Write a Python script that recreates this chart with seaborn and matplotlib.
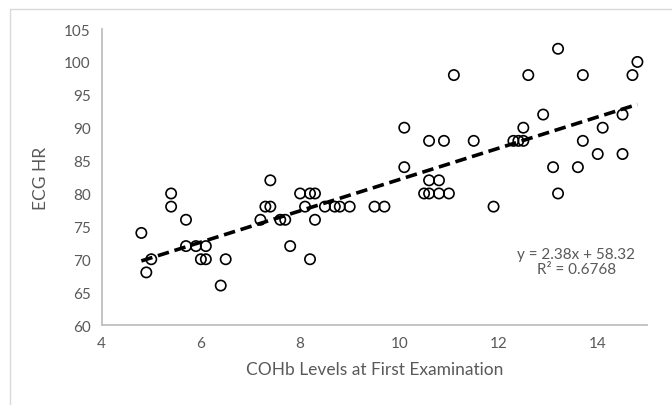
import numpy as np
import pandas as pd
import matplotlib.pyplot as plt
import matplotlib.patches as patches
import seaborn as sns

# ---- data ----
cohb = [4.8, 4.9, 5.0, 5.4, 5.4, 5.7, 5.7, 5.9, 6.0, 6.1, 6.1, 6.4, 6.5,
        7.2, 7.3, 7.4, 7.4, 7.6, 7.7, 7.8, 8.0, 8.1, 8.2, 8.2, 8.3, 8.3,
        8.5, 8.7, 8.8, 9.0, 9.5, 9.7,
        10.1, 10.1, 10.5, 10.6, 10.6, 10.6, 10.8, 10.8, 10.9, 11.0, 11.1,
        11.5, 11.9, 12.3, 12.4, 12.5, 12.5, 12.6, 12.9, 13.1, 13.2, 13.2,
        13.6, 13.7, 13.7, 14.0, 14.1, 14.5, 14.5, 14.7, 14.8]
ecg_hr = [74, 68, 70, 80, 78, 76, 72, 72, 70, 72, 70, 66, 70,
          76, 78, 78, 82, 76, 76, 72, 80, 78, 80, 70, 80, 76,
          78, 78, 78, 78, 78, 78,
          90, 84, 80, 80, 82, 88, 82, 80, 88, 80, 98,
          88, 78, 88, 88, 88, 90, 98, 92, 84, 102, 80,
          84, 98, 88, 86, 90, 92, 86, 98, 100]

slope = 2.38
intercept = 58.32
r_squared = 0.6768

x_ticks = [4, 6, 8, 10, 12, 14]
y_ticks = [60, 65, 70, 75, 80, 85, 90, 95, 100, 105]

df = pd.DataFrame({"COHb": cohb, "HR": ecg_hr})
trend_x = np.array([min(cohb), max(cohb)])
trend = pd.DataFrame({"COHb": trend_x, "HR": slope * trend_x + intercept})

# ---- style ----
sns.set_theme(style="white")
plt.rcParams["font.family"] = ["Lato", "DejaVu Sans"]

grey = "#595959"
spine = "#bfbfbf"

fig = plt.figure(figsize=(6.72, 4.06), dpi=100)
ax = fig.add_axes([0.1513, 0.197, 0.812, 0.729])

sns.scatterplot(
    data=df, x="COHb", y="HR",
    marker="o", s=55,
    facecolor="none", edgecolor="black", linewidth=1.2,
    ax=ax
)

sns.lineplot(
    data=trend, x="COHb", y="HR",
    color="black", linewidth=2.6, linestyle=(0, (3.2, 1.6)),
    ax=ax
)

ax.set_xlim(4, 15)
ax.set_ylim(60, 105)
ax.set_xticks(x_ticks)
ax.set_yticks(y_ticks)
ax.tick_params(axis="both", colors=grey, labelsize=11, length=0, pad=8)

ax.set_xlabel("COHb Levels at First Examination", color=grey, fontsize=12.5, labelpad=8)
ax.set_ylabel("ECG HR", color=grey, fontsize=12.5, labelpad=11)

for side in ["top", "right"]:
    ax.spines[side].set_visible(False)
for side in ["left", "bottom"]:
    ax.spines[side].set_color(spine)
    ax.spines[side].set_linewidth(1.3)

ax.text(
    0.87, 0.215,
    f"y = {slope}x + {intercept}\nR² = {r_squared}",
    transform=ax.transAxes, ha="center", va="center",
    color=grey, fontsize=11, linespacing=1.15
)

# chart frame (only top and left edges visible in the crop)
fig.patches.append(patches.Rectangle(
    (10 / 672, -0.2), 1.2, 1.2 - 10 / 406,
    transform=fig.transFigure, fill=False,
    edgecolor="#d9d9d9", linewidth=1
))

fig.savefig("out.png", dpi=100)
